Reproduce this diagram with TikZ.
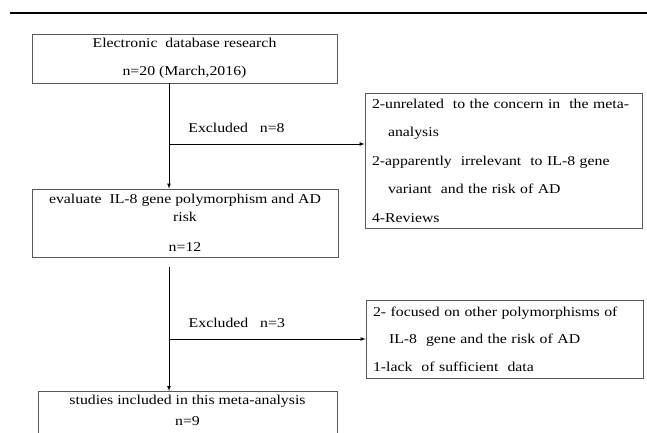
\documentclass[tikz,border=0pt]{standalone}
\usepackage{fontspec}
\setmainfont{Liberation Serif}[FakeStretch=1.17]
\tikzstyle{box}=[draw=black!65,line width=0.8pt,inner sep=0pt,font=\fontsize{13.5}{28}\selectfont,align=center]
\tikzstyle{side}=[box,align=left,inner xsep=7pt,text width=263pt,font=\fontsize{13.5}{28.5}\selectfont]
\tikzstyle{edge}=[draw,line width=0.7pt,-latex]
\tikzstyle{excl}=[font=\fontsize{13.5}{16}\selectfont,inner sep=0pt]

\begin{document}
\begin{tikzpicture}[x=1pt,y=-1pt]
        \useasboundingbox (0,0) rectangle (647,433);
        \clip (0,0) rectangle (647,433);
        \draw[line width=2.5pt] (10,13) -- (647,13);
        \node[box,minimum width=305pt,minimum height=49pt] (1) at (184.5,58.5) {Electronic\ \ database research\\n=20 (March,2016)};
        \node[box,minimum width=306pt,minimum height=68pt] (2) at (185,223) {evaluate\ \ IL-8 gene polymorphism and AD\\[-10pt]risk\\[2pt]n=12};
        \node[box,minimum width=299pt,inner ysep=4pt,anchor=north] (3) at (187.5,391) {studies included in this meta-analysis\\[-7pt]n=9\rule[-9pt]{0pt}{9pt}};
        \node[side,minimum height=135pt] (4) at (503.5,160.5) {2-unrelated\ \ to the concern in\ \ the meta-\\\hspace*{16pt}analysis\\2-apparently\ \ irrelevant\ \ to IL-8 gene\\\hspace*{16pt}variant\ \ and the risk of AD\\4-Reviews};
        \node[side,minimum height=78pt,font=\fontsize{13.5}{27.5}\selectfont] (5) at (504.5,339) {2-\ focused on other polymorphisms of\\\hspace*{16pt}IL-8\ \ gene and the risk of AD\\1-lack\ \ of sufficient\ \ data};
        \coordinate (j1) at (169,144);
        \coordinate (j2) at (169,339);
        \path[edge] (j1 |- 1.south) -- (j1 |- 2.north);
        \path[edge] (j1) -- node[excl,pos=0.345,above=11pt] {Excluded\ \ \ n=8} (j1 -| 4.west);
        \path[edge] (j2 |- 2.south) ++(0,10) -- (j2 |- 3.north);
        \path[edge] (j2) -- node[excl,pos=0.345,above=11pt] {Excluded\ \ \ n=3} (j2 -| 5.west);
    \end{tikzpicture}
\end{document}
